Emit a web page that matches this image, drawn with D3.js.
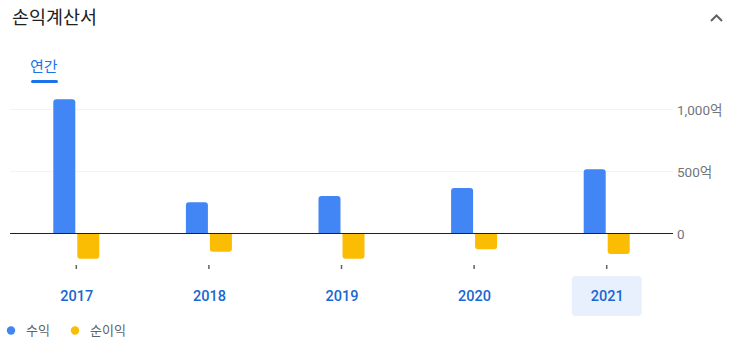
<!DOCTYPE html>
<html><head><meta charset="utf-8">
<script src="https://cdn.jsdelivr.net/npm/d3@7"></script>
<style>
body{margin:0;background:#fff;font-family:Roboto,"Noto Sans CJK KR",sans-serif;}
</style></head><body>
<svg id="c" width="736" height="356"></svg>
<script>
const years = ["2017","2018","2019","2020","2021"];
const revenue = [1082, 252, 302, 367, 518];
const netIncome = [-203, -147, -203, -127, -165];
const yTicks = [0, 500, 1000];
const yTickLabels = ["0", "500억", "1,000억"];
const seriesNames = ["수익", "순이익"];
const seriesColors = ["#4285f4", "#fbbc04"];
const selectedYear = "2021";

const svg = d3.select("#c");
const x = d3.scaleBand().domain(years).range([10, 673]).padding(0);
const y = d3.scaleLinear().domain([0, 1000]).range([233.5, 109.5]);

// title
svg.append("text").attr("x", 12).attr("y", 24).attr("font-size", 18.5)
  .attr("font-family", "'Noto Sans CJK KR',sans-serif").attr("fill", "#202124").text("손익계산서");
// chevron
svg.append("path").attr("d", "M711,21 L716.5,15.5 L722,21").attr("fill", "none")
  .attr("stroke", "#5f6368").attr("stroke-width", 2);
// tab
svg.append("text").attr("x", 30).attr("y", 72).attr("font-size", 15)
  .attr("font-family", "'Noto Sans CJK KR',sans-serif").attr("fill", "#1a73e8").text("연간");
svg.append("rect").attr("x", 31).attr("y", 80).attr("width", 27).attr("height", 3)
  .attr("rx", 1.5).attr("fill", "#1a73e8");

// gridlines
svg.append("g").selectAll("line").data(yTicks.filter(d => d !== 0)).join("line")
  .attr("x1", 10).attr("x2", 673).attr("y1", d => y(d)).attr("y2", d => y(d))
  .attr("stroke", "#f1f3f4").attr("stroke-width", 1);

// y labels
svg.append("g").selectAll("text").data(yTicks).join("text")
  .attr("x", 677).attr("y", d => y(d) + 5).attr("font-size", 13.5)
  .attr("font-family", "Roboto,'Noto Sans CJK KR',sans-serif")
  .attr("fill", "#70757a").text((d, i) => yTickLabels[i]);

// bars
function barPath(x0, w, yv, y0, r) {
  if (yv < y0) {
    return `M${x0},${y0} V${yv + r} Q${x0},${yv} ${x0 + r},${yv} H${x0 + w - r} Q${x0 + w},${yv} ${x0 + w},${yv + r} V${y0} Z`;
  } else {
    return `M${x0},${y0} V${yv - r} Q${x0},${yv} ${x0 + r},${yv} H${x0 + w - r} Q${x0 + w},${yv} ${x0 + w},${yv - r} V${y0} Z`;
  }
}
const bw = 22;
const y0 = y(0);
svg.append("g").selectAll("path").data(years).join("path")
  .attr("d", (d, i) => { const c = x(d) + x.bandwidth() / 2; return barPath(c - 1 - bw, bw, y(revenue[i]), y0, 3); })
  .attr("fill", seriesColors[0]);
svg.append("g").selectAll("path").data(years).join("path")
  .attr("d", (d, i) => { const c = x(d) + x.bandwidth() / 2; return barPath(c + 1, bw, y(netIncome[i]), y0, 3); })
  .attr("fill", seriesColors[1]);

// zero line
svg.append("line").attr("x1", 10).attr("x2", 673).attr("y1", y0).attr("y2", y0)
  .attr("stroke", "#202124").attr("stroke-width", 1.2);

// x ticks
svg.append("g").selectAll("rect").data(years).join("rect")
  .attr("x", d => x(d) + x.bandwidth() / 2 - 0.75).attr("y", 265).attr("width", 1.5).attr("height", 4)
  .attr("fill", "#5f6368");

// highlight
svg.append("rect").attr("x", x(selectedYear) + x.bandwidth() / 2 - 35).attr("y", 276)
  .attr("width", 70).attr("height", 40).attr("rx", 4).attr("fill", "#e8f0fe");

// x labels
svg.append("g").selectAll("text").data(years).join("text")
  .attr("x", d => x(d) + x.bandwidth() / 2 + 0.5).attr("y", 301).attr("text-anchor", "middle")
  .attr("font-size", 14.5).attr("font-weight", 500).attr("font-family", "Roboto,sans-serif")
  .attr("fill", "#1967d2").text(d => d);

// legend
const lg = svg.append("g");
const lx = [11, 75];
seriesNames.forEach((n, i) => {
  lg.append("circle").attr("cx", lx[i]).attr("cy", 330.5).attr("r", 4.2).attr("fill", seriesColors[i]);
  lg.append("text").attr("x", lx[i] + 15).attr("y", 335).attr("font-size", 13)
    .attr("font-family", "'Noto Sans CJK KR',sans-serif").attr("fill", "#5f6368").text(n);
});
</script></body></html>
